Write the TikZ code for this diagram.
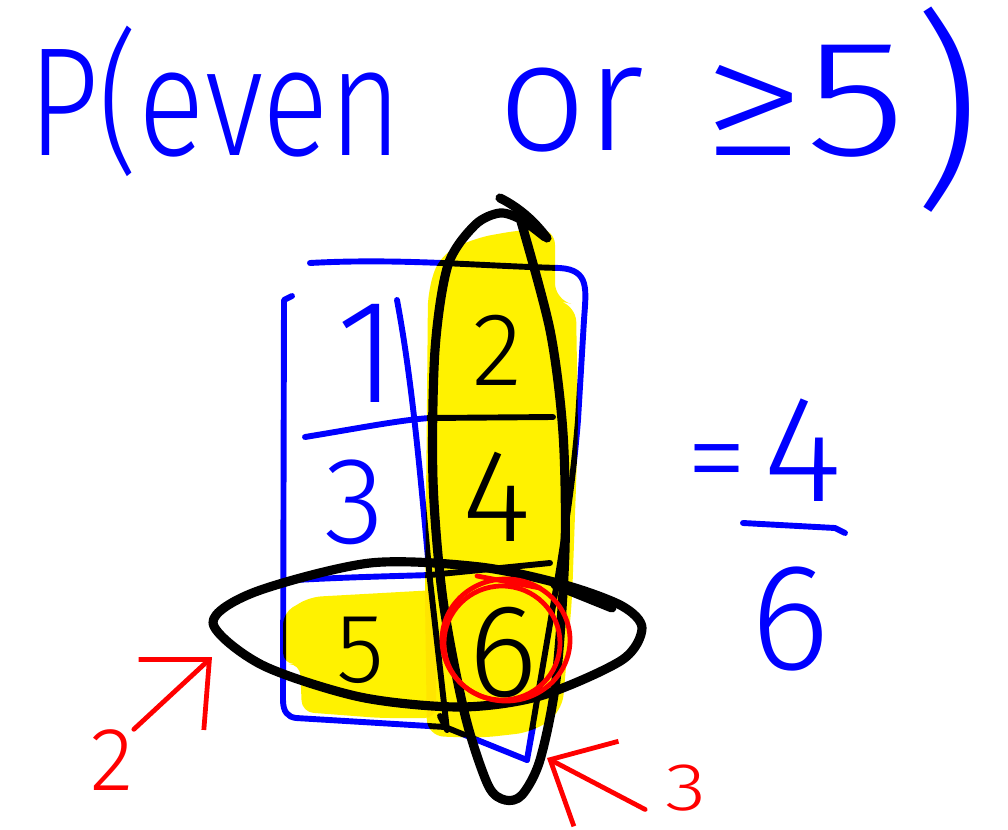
\documentclass[tikz,border=0pt]{standalone}
\usepackage{fontspec}
\setmainfont{Fira Sans}[UprightFont=* Light]
\usetikzlibrary{arrows.meta}

\tikzset{
  inkblue/.style = {blue, line width=4.2pt, line cap=round, line join=round},
  inkblack/.style = {black, line width=6.5pt, line cap=round, line join=round},
  inkred/.style = {red, line width=3.4pt, line cap=round, line join=round},
  redarrow/.style = {inkred, -{Straight Barb[length=13mm,width=24mm]}},
  hand/.style = {inner sep=0pt, font=\fontsize{#1}{#1}\selectfont}
}

\begin{document}
\begin{tikzpicture}[x=0.025cm, y=-0.025cm]
      \useasboundingbox (0,0) rectangle (1008,830);

      % Title
      \node[hand=110, text=blue, anchor=base west, xscale=0.8] (ptitle) at (28,155) {P(even};
      \node[hand=110, text=blue, anchor=base west] (ortitle) at (498,150) {or};
      \node[hand=118, text=blue, anchor=base west, xscale=1.25] (getitle) at (702,155) {≥5};
      \node[hand=150, text=blue, anchor=base west] (cltitle) at (912,183) {)};

      % Grid of outcomes
      \draw[inkblue] (310,263) .. controls (400,258) and (480,266) .. (560,268)
            .. controls (590,270) and (586,290) .. (584,320)
            -- (578,420) .. controls (570,520) and (550,620) .. (527,760) -- (533,727);
      \draw[inkblue] (292,296) -- (284,300) -- (283,700) .. controls (283,712) and (288,717) .. (296,718)
            -- (445,727) -- (527,760);
      \draw[inkblue] (397,300) .. controls (412,380) and (420,470) .. (430,580) -- (447,730) -- (440,716);
      \draw[inkblue] (305,437) .. controls (360,428) and (400,420) .. (430,418) -- (553,417);
      \draw[inkblue] (295,580) .. controls (350,577) and (400,576) .. (430,575) -- (550,563);

      % Digits
      \node[hand=105, text=blue] (one) at (367,353) {1};
      \node[hand=74] (two) at (497,350) {2};
      \node[hand=88, text=blue] (three) at (355,502) {3};
      \node[hand=94] (four) at (497,497) {4};
      \node[hand=70] (five) at (360,650) {5};
      \node[hand=94] (six) at (503,653) {6};

      % Events
      \draw[inkblack] plot[smooth] coordinates {(520,218) (550,330) (563,433) (565,550) (556,680)
            (540,760) (522,795) (505,800) (488,785) (465,715) (443,600) (433,480) (435,350)
            (448,265) (475,225) (500,213) (522,220) (545,237)};
      \draw[inkblack] (500,198) .. controls (520,208) and (535,222) .. (547,238);
      \draw[inkblack] plot[smooth cycle] coordinates {(213,623) (255,592) (370,563) (480,567)
            (565,585) (622,606) (642,628) (622,660) (540,696) (460,707) (360,697) (262,665)};
      \draw[inkblack] (555,585) -- (612,608);

      % Circled outcome
      \draw[inkred] (506,640) ellipse [x radius=64, y radius=61];
      \draw[inkred] (502,643) ellipse [x radius=58, y radius=57];
      \draw[inkred] (477,576) -- (540,588);

      % Highlight
      \begin{scope}[blend mode=multiply]
        \fill[yellow, rounded corners=12] (428,290) -- (440,255) -- (475,238) -- (520,230)
              -- (555,228) -- (555,300) -- (576,305) -- (578,430) -- (572,600) -- (562,712)
              -- (533,732) -- (480,738) -- (427,736) -- (425,600) -- (427,400) -- cycle;
        \fill[yellow, rounded corners=8] (283,613) -- (310,597) -- (436,590) -- (436,718)
              -- (380,718) -- (302,712) -- (300,664) -- (283,664) -- cycle;
      \end{scope}

      % Result
      \node[hand=88, text=blue] (equal) at (717,472) {=};
      \node[hand=108, text=blue] (numer) at (803,450) {4};
      \node[hand=108, text=blue] (denom) at (790,619) {6};
      \draw[inkblue] (743,523) -- (835,528) -- (845,533);

      % Counts
      \node[hand=64, text=red] (cnttwo) at (112,760) {2};
      \coordinate (tiptwo) at (212,657);
      \draw[redarrow] (cnttwo.north east) -- (tiptwo);
      \node[hand=48, text=red, xscale=1.25] (cntthree) at (686,788) {3};
      \coordinate (tipthree) at (547,758);
      \draw[redarrow] ([xshift=-0.5cm,yshift=0.05cm]cntthree.south west) -- (tipthree);
\end{tikzpicture}
\end{document}
